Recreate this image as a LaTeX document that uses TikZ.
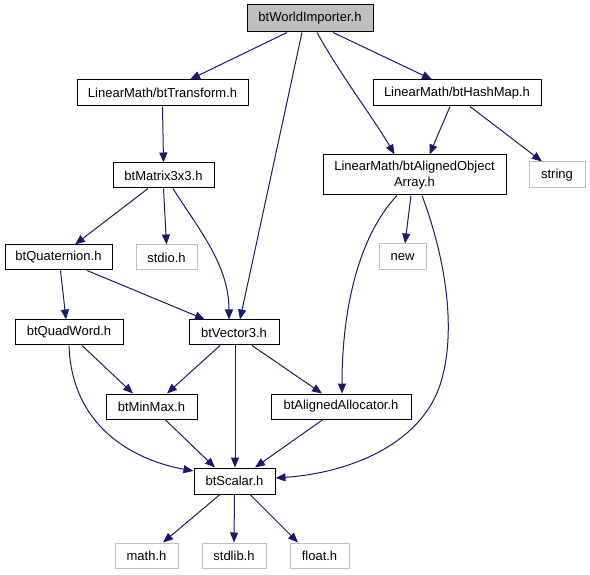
\documentclass[tikz,border=0pt]{standalone}
\usepackage{fontspec}
\setmainfont{Liberation Sans}
\usetikzlibrary{arrows.meta}
\definecolor{edgeblue}{HTML}{191970}
\definecolor{sysgray}{HTML}{BFBFBF}

\begin{document}
\begin{tikzpicture}[x=1pt,y=-1pt]
\tikzset{module/.style={
rectangle,draw,black,line width=1pt,
minimum height=26pt,
inner sep=0pt,
font=\fontsize{13}{15.5}\selectfont,
align=center}}

\tikzset{moduleSys/.style={
module,draw=sysgray}}

\tikzset{moduleRoot/.style={
module,fill=sysgray}}

\tikzset{include/.style={
draw=edgeblue,line width=1pt,
-{Triangle[length=10pt,width=8pt]}}}

\useasboundingbox (0,0) rectangle (590,575);

\draw
(310,18.5) node[moduleRoot,minimum width=126pt,minimum height=27pt,name=uWorldImporter] {btWorldImporter.h}
(162.5,93) node[module,minimum width=171pt,name=uTransform] {LinearMath/btTransform.h}
(457,93) node[module,minimum width=168pt,name=uHashMap] {LinearMath/btHashMap.h}
(163.5,175.5) node[module,minimum width=101pt,minimum height=25pt,name=uMatrix] {btMatrix3x3.h}
(414.5,175) node[module,minimum width=183pt,minimum height=40pt,name=uAlignedArray] {LinearMath/btAlignedObject\\Array.h}
(557,175) node[moduleSys,minimum width=56pt,name=uString] {string};

\draw
(58.5,257.5) node[module,minimum width=107pt,minimum height=25pt,name=uQuaternion] {btQuaternion.h}
(166.5,257.5) node[moduleSys,minimum width=61pt,minimum height=25pt,name=uStdio] {stdio.h}
(402.5,257) node[moduleSys,minimum width=47pt,name=uNew] {new}
(69,332.5) node[module,minimum width=108pt,minimum height=25pt,name=uQuadWord] {btQuadWord.h}
(234,332.5) node[module,minimum width=90pt,minimum height=25pt,name=uVector] {btVector3.h}
(151.5,406.5) node[module,minimum width=91pt,minimum height=25pt,name=uMinMax] {btMinMax.h}
(341,406.5) node[module,minimum width=140pt,minimum height=25pt,name=uAllocator] {btAlignedAllocator.h}
(234.5,481) node[module,minimum width=81pt,name=uScalar] {btScalar.h};

\draw
(146.5,555.5) node[moduleSys,minimum width=63pt,minimum height=25pt,name=uMath] {math.h}
(234,555.5) node[moduleSys,minimum width=64pt,minimum height=25pt,name=uStdlib] {stdlib.h}
(319.5,555.5) node[moduleSys,minimum width=59pt,minimum height=25pt,name=uFloat] {float.h};

\draw[include] ([xshift=-23pt]uWorldImporter.south) -- ([xshift=27.5pt]uTransform.north);
\draw[include] ([xshift=23pt]uWorldImporter.south) -- ([xshift=-25pt]uHashMap.north);
\draw[include] ([xshift=-8pt]uWorldImporter.south) -- ([xshift=6pt]uVector.north);
\draw[include] ([xshift=7pt]uWorldImporter.south)
.. controls +(25,45) and +(-20,-35) .. ([xshift=-20pt]uAlignedArray.north);
\draw[include] ([xshift=-7pt]uHashMap.south) -- ([xshift=15pt]uAlignedArray.north);
\draw[include] ([xshift=13pt]uHashMap.south) -- ([xshift=-15pt]uString.north);
\draw[include] (uTransform.south) -- (uMatrix.north);
\draw[include] ([xshift=-15.5pt]uMatrix.south) -- ([xshift=16.5pt]uQuaternion.north);
\draw[include] (uMatrix.south) -- (uStdio.north);
\draw[include] ([xshift=9.5pt]uMatrix.south)
.. controls +(25,40) and +(0,-55) .. ([xshift=-5pt]uVector.north);
\draw[include] ([xshift=2pt]uQuaternion.south) -- ([xshift=-3pt]uQuadWord.north);
\draw[include] ([xshift=28.5pt]uQuaternion.south) -- ([xshift=-29pt]uVector.north);
\draw[include] ([xshift=13pt]uQuadWord.south) -- ([xshift=-18.5pt]uMinMax.north);
\draw[include] (uQuadWord.south)
.. controls +(3,85) and +(-55,-10) .. ([yshift=10pt]uScalar.west);
\draw[include] ([xshift=-14pt]uVector.south) -- ([xshift=15.5pt]uMinMax.north);
\draw[include] ([xshift=1pt]uVector.south) -- ([xshift=0.5pt]uScalar.north);
\draw[include] ([xshift=18pt]uVector.south) -- ([xshift=-19pt]uAllocator.north);
\draw[include] ([xshift=-17.5pt]uAlignedArray.south)
.. controls +(-42,45) and +(0,-75) .. ([xshift=1pt]uAllocator.north);
\draw[include] ([xshift=-3.5pt]uAlignedArray.south) -- ([xshift=2.5pt]uNew.north);
\draw[include] ([xshift=7.5pt]uAlignedArray.south)
.. controls +(28,75) and +(15,-45) .. (440,385)
.. controls +(-20,60) and +(73,-5) .. ([yshift=3pt]uScalar.east);
\draw[include] ([xshift=13.5pt]uMinMax.south) -- ([xshift=-19.5pt]uScalar.north);
\draw[include] ([xshift=-18pt]uAllocator.south) -- ([xshift=20.5pt]uScalar.north);
\draw[include] ([xshift=-14.5pt]uScalar.south) -- ([xshift=16.5pt]uMath.north);
\draw[include] (uScalar.south) -- (uStdlib.north);
\draw[include] ([xshift=15.5pt]uScalar.south) -- ([xshift=-21.5pt]uFloat.north);

\end{tikzpicture}
\end{document}
